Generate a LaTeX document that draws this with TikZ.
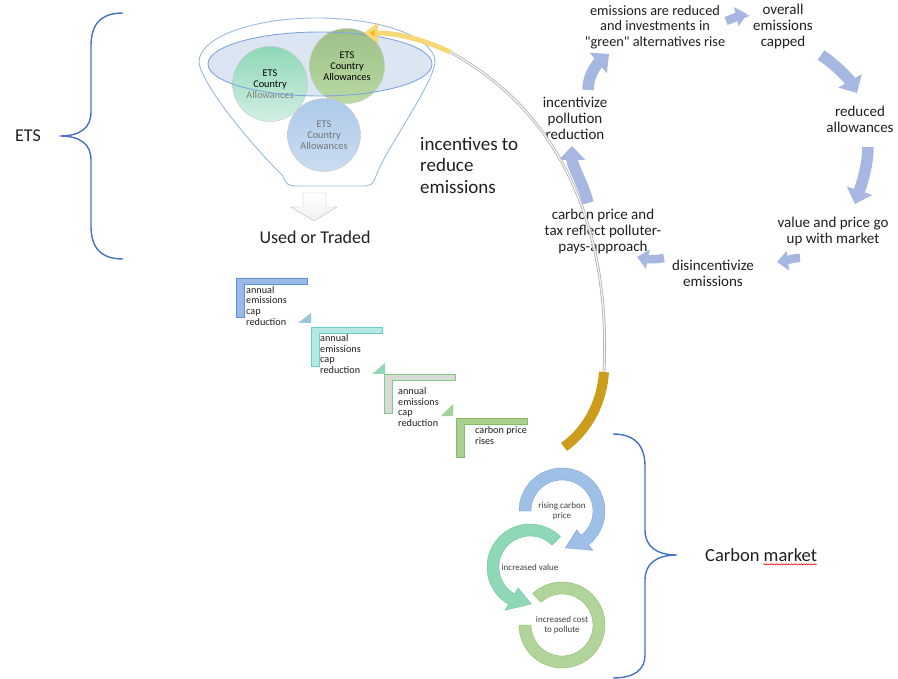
\documentclass[tikz,border=0pt]{standalone}
\usepackage{fontspec}
\setmainfont{Carlito}
\usepackage{tikz}
\usetikzlibrary{positioning, arrows.meta, calc, decorations.pathmorphing}

\definecolor{braceblue}{HTML}{4472C4}
\definecolor{funnelblue}{HTML}{7EA6DC}
\definecolor{innerblue}{HTML}{DCE6F2}
\definecolor{cycblue}{HTML}{A6B7E2}
\definecolor{goldbar}{HTML}{CC9D1A}
\definecolor{goldtip}{HTML}{F2B705}
\definecolor{textgray}{HTML}{1F1F1F}
\definecolor{stepone}{HTML}{9AB9E6}
\definecolor{steponeline}{HTML}{5B8FD6}
\definecolor{steptwo}{HTML}{B5E8E2}
\definecolor{steptwoline}{HTML}{67CFC3}
\definecolor{stepthree}{HTML}{D9D9D9}
\definecolor{stepthreeline}{HTML}{7CCF80}
\definecolor{stepfour}{HTML}{A9D08E}
\definecolor{stepfourline}{HTML}{82BD63}
\definecolor{ringone}{HTML}{9FC0E6}
\definecolor{ringoneline}{HTML}{7EA6D8}
\definecolor{ringtwo}{HTML}{8ED8B7}
\definecolor{ringtwoline}{HTML}{6FC49E}
\definecolor{ringthree}{HTML}{B0D49A}
\definecolor{ringthreeline}{HTML}{8CBD72}

\begin{document}
\begin{tikzpicture}[x=1pt, y=-1pt]
	% Define styles
	\tikzset{
		bigtext/.style={font=\fontsize{18}{21.5}\selectfont, inner sep=0pt, text=textgray},
		cyctext/.style={font=\fontsize{15}{16}\selectfont, align=center, inner sep=0pt, text=textgray},
		steptext/.style={font=\fontsize{10.2}{10.6}\selectfont, align=left, anchor=north west, inner sep=0pt, text=textgray},
		allowance/.style={circle, draw=gray!45, minimum size=75pt, inner sep=0pt, align=center, font=\fontsize{10.3}{10.8}\selectfont},
		ringtext/.style={font=\fontsize{9}{10.5}\selectfont, align=center, inner sep=0pt, text=black!75},
		cycarrow/.style={draw=cycblue, line width=11.5pt, -{Triangle[width=26pt, length=14pt]}},
		smallarrow/.style={draw=cycblue, line width=8.5pt, -{Triangle[width=19pt, length=11pt]}},
		brace/.style={draw=braceblue, line width=1.4pt},
		pics/stepL/.style={code={\path[pic actions] (0,0) -- (71,0) -- (71,6) -- (8,6) -- (8,39) -- (0,39) -- cycle;}}
	}
	\useasboundingbox (0,0) rectangle (898,679);

	% ETS side
	\node[bigtext] (ets) at (28,136) {ETS};
	\draw[brace] (123,13) .. controls (101,13) and (91,24) .. (91,46) -- (91,112)
		.. controls (91,128) and (80,136) .. (60,136) .. controls (80,136) and (91,144) .. (91,160)
		-- (91,226) .. controls (91,248) and (101,259) .. (123,259);

	% Funnel
	\draw[draw=funnelblue!80, line width=0.9pt] (199,62) arc[start angle=180, end angle=360, x radius=118, y radius=44]
		.. controls (433,85) and (385,150) .. (376,176) .. controls (373,185) and (370,186) .. (362,186)
		-- (297,186) .. controls (289,186) and (286,185) .. (283,176) .. controls (256,150) and (201,85) .. (199,62) -- cycle;
	\fill[innerblue] (320,64) ellipse[x radius=112, y radius=32];
	\node[allowance, top color=ringtwo, bottom color=ringtwo!40] (alw1) at (270,84) {ETS\\Country\\{\color{gray}Allowances}};
	\node[allowance, top color=stepfour!90!black!95, bottom color=stepfour!80] (alw2) at (347,66) {ETS\\Country\\Allowances};
	\node[allowance, minimum size=73pt, top color=ringone!85, bottom color=ringone!55, text=gray!90!black] (alw3) at (324,135) {ETS\\Country\\Allowances};
	\draw[draw=funnelblue, line width=0.9pt] (320,64) ellipse[x radius=112, y radius=32];

	\node[bigtext] (used) at (315,237) {Used or Traded};
	\draw[draw=gray!55, top color=white, bottom color=gray!12] (303,193) -- (326,193) -- (326,207) -- (337,207)
		-- (314,221) -- (291,207) -- (303,207) -- cycle;

	\node[bigtext, font=\fontsize{19}{21.5}\selectfont, align=left, anchor=north west] (incent) at (420,137) {incentives to\\reduce\\emissions};

	% Cycle
	\node[cyctext, font=\fontsize{14.3}{15.5}\selectfont] (emred) at (655,27) {emissions are reduced\\and investments in\\\textquotedbl green\textquotedbl{} alternatives rise};
	\node[cyctext] (capped) at (783,27) {overall\\emissions\\capped};
	\node[cyctext] (redall) at (860,119) {reduced\\allowances};
	\node[cyctext] (valup) at (833,232) {value and price go\\up with market};
	\node[cyctext] (disinc) at (713,273) {disincentivize\\emissions};
	\node[cyctext] (cprice) at (603,232) {carbon price and\\tax reflect polluter-\\pays-approach};
	\node[cyctext] (incpol) at (575,118) {incentivize\\pollution\\reduction};

	\draw[cycarrow] ($(incpol)+(13,-28)$) .. controls +(0,-15) and +(-12,10) .. ($(emred)+(-46,27)$);
	\draw[smallarrow] ($(emred)+(71,-6)$) .. controls +(8,-3) and +(-8,2) .. ($(capped)+(-36,-13)$);
	\draw[cycarrow] ($(capped)+(38,28)$) .. controls +(15,10) and +(-8,-14) .. ($(redall)+(-3,-26)$);
	\draw[cycarrow] ($(redall)+(8,28)$) .. controls +(0,20) and +(5,-15) .. ($(valup)+(22,-28)$);
	\draw[smallarrow] ($(valup)+(-33,26)$) .. controls +(-8,0) and +(8,-1) .. ($(disinc)+(64,-11)$);
	\draw[smallarrow] ($(disinc)+(-49,-15)$) .. controls +(-10,2) and +(10,2) .. ($(cprice)+(34,25)$);
	\draw[cycarrow] ($(cprice)+(-15,-29)$) .. controls +(-5,-20) and +(0,20) .. ($(incpol)+(-3,28)$);

	% Steps
	\pic[draw=steponeline, fill=stepone] at (236,278) {stepL};
	\pic[draw=steptwoline, fill=steptwo] at (311,327) {stepL};
	\pic[draw=stepthreeline, fill=stepthree] at (384,374) {stepL};
	\pic[draw=stepfourline, fill=stepfour] at (456,418) {stepL};
	\fill[color=ringone!70!ringtwo] (298,323) -- (311,313) -- (311,323) -- cycle;
	\fill[color=ringtwo] (372,374) -- (385,363) -- (385,374) -- cycle;
	\fill[color=stepfour!80!ringtwo] (441,416) -- (453,404) -- (453,416) -- cycle;
	\node[steptext] (stp1) at (246,286) {annual\\emissions\\cap\\reduction};
	\node[steptext] (stp2) at (320,334.5) {annual\\emissions\\cap\\reduction};
	\node[steptext] (stp3) at (398,387.5) {annual\\emissions\\cap\\reduction};
	\node[steptext] (stp4) at (475,426.5) {carbon price\\rises};

	% Carbon market
	\node[ringtext] (cost) at (562,625) {increased cost\\to pollute};
	\node[ringtext] (value) at (530,567) {increased value};
	\node[ringtext] (rise) at (562,511) {rising carbon\\price};
	\filldraw[fill=ringthree, draw=ringthreeline] ([shift={(180:43)}]cost.center) arc[start angle=180, end angle=-133, radius=43]
		-- ([shift={(-133:31)}]cost.center) arc[start angle=-133, end angle=180, radius=31] -- cycle;
	\filldraw[fill=ringtwo, draw=ringtwoline] ([shift={(315:43)}]value.center) arc[start angle=315, end angle=120, radius=43]
		-- ([shift={(120:50)}]value.center) -- ([shift={(88:37)}]value.center) -- ([shift={(120:24)}]value.center)
		-- ([shift={(120:31)}]value.center) arc[start angle=120, end angle=315, radius=31] -- cycle;
	\filldraw[fill=ringone, draw=ringoneline] ([shift={(180:43)}]rise.center) arc[start angle=180, end angle=412, radius=43]
		-- ([shift={(412:50)}]rise.center) -- ([shift={(445:37)}]rise.center) -- ([shift={(412:24)}]rise.center)
		-- ([shift={(412:31)}]rise.center) arc[start angle=412, end angle=180, radius=31] -- cycle;

	\node[bigtext, font=\fontsize{18.5}{21}\selectfont, anchor=west] (cmkt) at (705,555) {Carbon market};
	\draw[red, line width=0.5pt, decorate, decoration={snake, amplitude=0.7pt, segment length=2.5pt}]
		($(cmkt.base east)+(-54,3)$) -- ($(cmkt.base east)+(0,3)$);
	\draw[brace] (613,434) .. controls (634,434) and (645,445) .. (645,466) -- (645,530)
		.. controls (645,546) and (656,555) .. (677,555) .. controls (656,555) and (645,564) .. (645,580)
		-- (645,655) .. controls (645,670) and (634,678) .. (613,678);

	% Big arrow back to the funnel
	\coordinate (mktend) at (564,447);
	\coordinate (goldtop) at (604,372);
	\coordinate (greytop) at (450,52);
	\coordinate (fnltip) at (364,33);
	\draw[draw=goldbar, line width=10pt] (mktend) .. controls (590,428) and (602,400) .. (goldtop);
	\draw[draw=gray!60, double=gray!8, double distance=1.2pt, line width=0.8pt] (goldtop) .. controls (610,250) and (575,120) .. (greytop);
	\draw[draw=goldtip!55, line width=5pt, -{Triangle[width=20pt, length=14pt, fill=goldtip]}] (greytop) .. controls (420,38) and (395,33) .. (fnltip);
\end{tikzpicture}
\end{document}
